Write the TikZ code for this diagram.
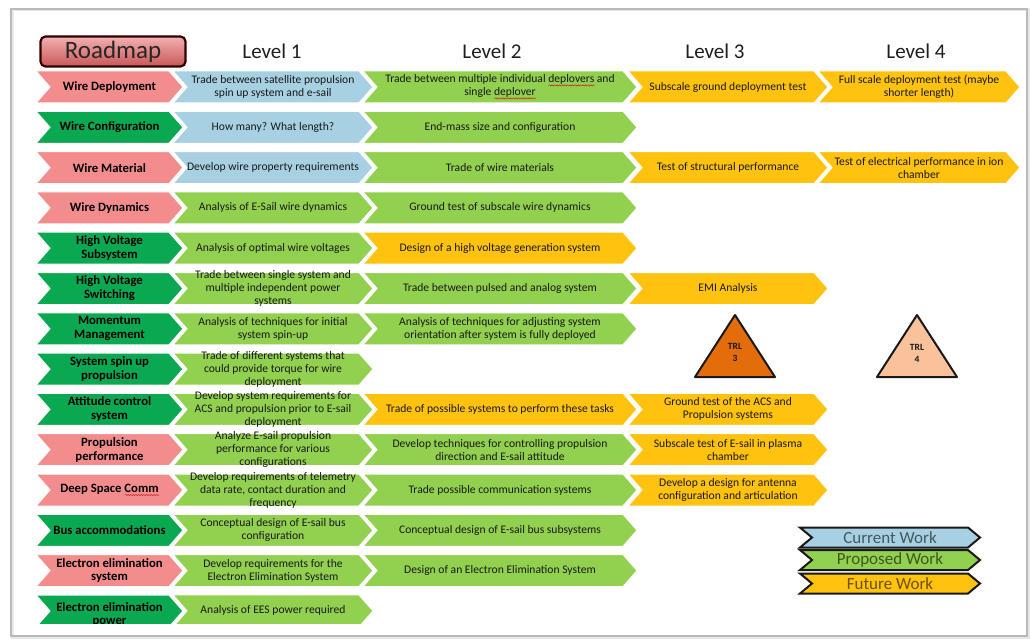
\documentclass[tikz,border=0pt]{standalone}
\usepackage{fontspec}
\setmainfont{Carlito}
\usetikzlibrary{decorations.pathmorphing}

\definecolor{pinkc}{HTML}{F38C8D}
\definecolor{dgreen}{HTML}{0AA850}
\definecolor{lblue}{HTML}{A7D1E2}
\definecolor{lgreen}{HTML}{92D050}
\definecolor{gold}{HTML}{FFC20E}
\definecolor{trlorange}{HTML}{E46C0A}
\definecolor{trlpeach}{HTML}{FAC29A}
\definecolor{spellred}{HTML}{D02020}
\definecolor{roadtop}{HTML}{F2B0B0}
\definecolor{roadbot}{HTML}{C85858}

% red wavy spell-check mark under a word
\newsavebox\spellbox
\newlength\spelllen
\newcommand\spell[1]{\sbox\spellbox{#1}\setlength\spelllen{\wd\spellbox}%
  \rlap{\tikz[baseline=0pt]\draw[spellred, line width=0.5pt, decorate,
    decoration={snake, amplitude=0.6pt, segment length=2.6pt}]
    (0pt,-2.6pt) -- (\spelllen,-2.6pt);}\usebox\spellbox}

% chevron outline: left x, tip x, y centre, fill
\newcommand\chevpath[4]{%
  \path[chevron,fill=#4] (#1,#3-16) -- ({#2-14},#3-16) -- (#2,#3)
     -- ({#2-14},#3+16) -- (#1,#3+16) -- ({#1+14},#3) -- cycle;}

% one chevron with its text: name, left x, tip x, row, fill, text style, text
\newcommand\cell[7]{%
  \pgfmathsetmacro\yc{87+40.3*#4}%
  \chevpath{#2}{#3}{\yc}{#5}%
  \node[#6] (#1) at ({(#2+#3)/2},\yc) {#7};}

% legend chevron: name, y centre, fill, text
\newcommand\legend[4]{%
  \path[draw=black!90, line width=2pt, line join=miter, fill=#3]
     (800,#2-10) -- (968,#2-10) -- (980,#2) -- (968,#2+10) -- (800,#2+10)
     -- (812,#2) -- cycle;%
  \node[legt, text=#3!42!black] (#1) at (890,#2) {#4};}

\tikzset{
  chevron/.style={draw=white, line width=1pt, line join=miter},
  labt/.style={font=\bfseries\fontsize{12.7}{13.8}\selectfont, align=center,
    inner sep=0pt, text=black},
  cellt/.style={font=\fontsize{11.6}{13}\selectfont, align=center,
    inner sep=0pt, text=black!90},
  levelt/.style={font=\fontsize{21}{24}\selectfont, text=black!88, inner sep=0pt},
  legt/.style={font=\fontsize{17}{19}\selectfont, inner sep=0pt},
  trlt/.style={font=\bfseries\fontsize{9.5}{12}\selectfont, align=center,
    inner sep=0pt, text=black!90},
  trlshape/.style={draw=black!90, line width=2pt, line join=round},
}

\begin{document}
\begin{tikzpicture}[x=1pt, y=-1pt]
\useasboundingbox (0,0) rectangle (1031,639);
\fill[white] (0,0) rectangle (1031,639);

% slide frame
\draw[gray!18, line width=3pt] (12,10) rectangle (1028,637);
\draw[gray!55, line width=1.1pt] (11,9) rectangle (1027,636);

% title box and level headings
\node[draw=black!80!red, line width=2.2pt, rounded corners=5pt,
      top color=roadtop, bottom color=roadbot,
      minimum width=145pt, minimum height=30pt, inner sep=0pt,
      font=\fontsize{25}{28}\selectfont, text=black!85] (roadmap) at (113,51.5) {Roadmap};
\node[levelt] (lev1) at (272,51) {Level 1};
\node[levelt] (lev2) at (492,51) {Level 2};
\node[levelt] (lev3) at (715,51) {Level 3};
\node[levelt] (lev4) at (916,51) {Level 4};

% row 0
\cell{lab0}{36}{183}{0}{pinkc}{labt}{Wire Deployment}
\cell{c01}{173}{373}{0}{lblue}{cellt}{Trade between satellite propulsion\\spin up system and e-sail}
\cell{c02}{363}{637}{0}{lgreen}{cellt}{Trade between multiple individual \spell{deplovers} and\\single \spell{deplover}}
\cell{c03}{628}{828}{0}{gold}{cellt}{Subscale ground deployment test}
\cell{c04}{818}{1020}{0}{gold}{cellt}{Full scale deployment test (maybe\\shorter length)}

% row 1
\cell{lab1}{36}{183}{1}{dgreen}{labt}{Wire Configuration}
\cell{c11}{173}{373}{1}{lblue}{cellt}{How many? What length?}
\cell{c12}{363}{637}{1}{lgreen}{cellt}{End-mass size and configuration}

% row 2
\cell{lab2}{36}{183}{2}{pinkc}{labt}{Wire Material}
\cell{c21}{173}{373}{2}{lblue}{cellt}{Develop wire property requirements}
\cell{c22}{363}{637}{2}{lgreen}{cellt}{Trade of wire materials}
\cell{c23}{628}{828}{2}{gold}{cellt}{Test of structural performance}
\cell{c24}{818}{1020}{2}{gold}{cellt}{Test of electrical performance in ion\\chamber}

% row 3
\cell{lab3}{36}{183}{3}{pinkc}{labt}{Wire Dynamics}
\cell{c31}{173}{373}{3}{lgreen}{cellt}{Analysis of E-Sail wire dynamics}
\cell{c32}{363}{637}{3}{lgreen}{cellt}{Ground test of subscale wire dynamics}

% row 4
\cell{lab4}{36}{183}{4}{dgreen}{labt}{High Voltage\\Subsystem}
\cell{c41}{173}{373}{4}{lgreen}{cellt}{Analysis of optimal wire voltages}
\cell{c42}{363}{637}{4}{gold}{cellt}{Design of a high voltage generation system}

% row 5
\cell{lab5}{36}{183}{5}{dgreen}{labt}{High Voltage\\Switching}
\cell{c51}{173}{373}{5}{lgreen}{cellt}{Trade between single system and\\multiple independent power\\systems}
\cell{c52}{363}{637}{5}{lgreen}{cellt}{Trade between pulsed and analog system}
\cell{c53}{628}{828}{5}{gold}{cellt}{EMI Analysis}

% row 6
\cell{lab6}{36}{183}{6}{dgreen}{labt}{Momentum\\Management}
\cell{c61}{173}{373}{6}{lgreen}{cellt}{Analysis of techniques for initial\\system spin-up}
\cell{c62}{363}{637}{6}{lgreen}{cellt}{Analysis of techniques for adjusting system\\orientation after system is fully deployed}

% row 7
\cell{lab7}{36}{183}{7}{dgreen}{labt}{System spin up\\propulsion}
\cell{c71}{173}{373}{7}{lgreen}{cellt}{Trade of different systems that\\could provide torque for wire\\deployment}

% row 8
\cell{lab8}{36}{183}{8}{dgreen}{labt}{Attitude control\\system}
\cell{c81}{173}{373}{8}{lgreen}{cellt}{Develop system requirements for\\ACS and propulsion prior to E-sail\\deployment}
\cell{c82}{363}{637}{8}{gold}{cellt}{Trade of possible systems to perform these tasks}
\cell{c83}{628}{828}{8}{gold}{cellt}{Ground test of the ACS and\\Propulsion systems}

% row 9
\cell{lab9}{36}{183}{9}{pinkc}{labt}{Propulsion\\performance}
\cell{c91}{173}{373}{9}{lgreen}{cellt}{Analyze E-sail propulsion\\performance for various\\configurations}
\cell{c92}{363}{637}{9}{lgreen}{cellt}{Develop techniques for controlling propulsion\\direction and E-sail attitude}
\cell{c93}{628}{828}{9}{gold}{cellt}{Subscale test of E-sail in plasma\\chamber}

% row 10
\cell{lab10}{36}{183}{10}{pinkc}{labt}{Deep Space \spell{Comm}}
\cell{c101}{173}{373}{10}{lgreen}{cellt}{Develop requirements of telemetry\\data rate, contact duration and\\frequency}
\cell{c102}{363}{637}{10}{lgreen}{cellt}{Trade possible communication systems}
\cell{c103}{628}{828}{10}{gold}{cellt}{Develop a design for antenna\\configuration and articulation}

% row 11
\cell{lab11}{36}{183}{11}{dgreen}{labt}{Bus accommodations}
\cell{c111}{173}{373}{11}{lgreen}{cellt}{Conceptual design of E-sail bus\\configuration}
\cell{c112}{363}{637}{11}{lgreen}{cellt}{Conceptual design of E-sail bus subsystems}

% row 12
\cell{lab12}{36}{183}{12}{pinkc}{labt}{Electron elimination\\system}
\cell{c121}{173}{373}{12}{lgreen}{cellt}{Develop requirements for the\\Electron Elimination System}
\cell{c122}{363}{637}{12}{lgreen}{cellt}{Design of an Electron Elimination System}

% row 13, cut off at the bottom of the slide area
\begin{scope}
  \clip (0,0) rectangle (1031,623.5);
  \chevpath{36}{183}{611}{dgreen}
  \node[labt] (lab13) at (109.5,614.5) {Electron elimination\\power};
  \cell{c131}{173}{373}{13}{lgreen}{cellt}{Analysis of EES power required}
\end{scope}

% readiness level markers
\draw[trlshape, fill=trlorange] (735,315) -- (775,377) -- (695,377) -- cycle;
\node[trlt] (trl3) at (735,352) {TRL\\3};
\draw[trlshape, fill=trlpeach] (917,315) -- (957,377) -- (877,377) -- cycle;
\node[trlt] (trl4) at (917,353) {TRL\\4};

% legend
\legend{lcur}{537.5}{lblue}{Current Work}
\legend{lprop}{560}{lgreen}{Proposed Work}
\legend{lfut}{583.5}{gold}{Future Work}
\end{tikzpicture}
\end{document}
